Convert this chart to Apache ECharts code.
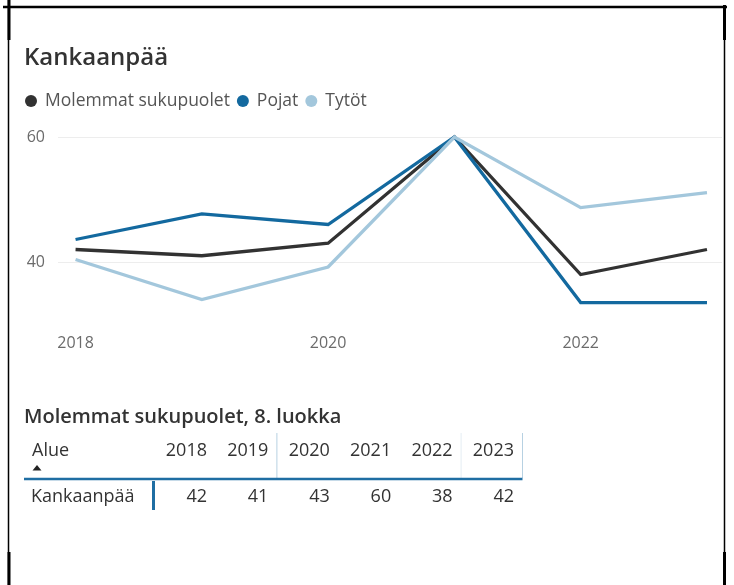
<!DOCTYPE html>
<html>
<head>
<meta charset="utf-8">
<script src="https://cdn.jsdelivr.net/npm/echarts@6/dist/echarts.min.js"></script>
<style>
  html, body { margin: 0; padding: 0; background: #ffffff; }
  #chart { width: 734px; height: 585px; }
</style>
</head>
<body>
<div id="chart"></div>
<script>
// Kankaanpää, 8. luokka – yearly values by gender
const years = [2018, 2019, 2020, 2021, 2022, 2023];
const molemmat = [42, 41, 43, 60, 38, 42];
const pojat = [43.6, 47.7, 46.0, 60, 33.5, 33.5];
const tytot = [40.4, 34.0, 39.2, 60, 48.7, 51.1];
const xTickLabels = [2018, 2020, 2022];
const yTickLabels = [40, 60];
const seriesNames = ['Molemmat sukupuolet', 'Pojat', 'Tytöt'];
const tableTitle = 'Molemmat sukupuolet, 8. luokka';
const tableRegion = 'Kankaanpää';

const FONT = "'Segoe UI', 'Open Sans', sans-serif";
const COLORS = ['#323232', '#13699f', '#a3c7dc'];

const chart = echarts.init(document.getElementById('chart'), null, { renderer: 'canvas' });

const toPoints = vals => years.map((y, i) => [y, vals[i]]);

// Frame around the visual
const frame = [
  { type: 'line', shape: { x1: 3, y1: 7, x2: 727, y2: 7 }, style: { stroke: '#000', lineWidth: 2.5 } },
  { type: 'line', shape: { x1: 8.5, y1: 0, x2: 8.5, y2: 585 }, style: { stroke: '#000', lineWidth: 1.5 } },
  { type: 'line', shape: { x1: 9, y1: 0, x2: 9, y2: 40 }, style: { stroke: '#000', lineWidth: 3 } },
  { type: 'line', shape: { x1: 9, y1: 552, x2: 9, y2: 585 }, style: { stroke: '#000', lineWidth: 3 } },
  { type: 'line', shape: { x1: 724.5, y1: 5, x2: 724.5, y2: 585 }, style: { stroke: '#000', lineWidth: 1.5 } },
  { type: 'line', shape: { x1: 724.5, y1: 5, x2: 724.5, y2: 40 }, style: { stroke: '#000', lineWidth: 3 } },
  { type: 'line', shape: { x1: 724.5, y1: 552, x2: 724.5, y2: 585 }, style: { stroke: '#000', lineWidth: 3 } }
];

// Headings
const headings = [
  { type: 'text', x: 24, y: 58, style: { text: 'Kankaanpää', font: `600 24px ${FONT}`, fill: '#333333', textVerticalAlign: 'middle' } },
  { type: 'text', x: 24, y: 417, style: { text: tableTitle, font: `600 20px ${FONT}`, fill: '#333333', textVerticalAlign: 'middle' } }
];

// Table of "Molemmat sukupuolet" values
const colRight0 = 207, colStep = 61.4;
const headerY = 451, rowY = 497;
const CELL_FONT = `18px ${FONT}`;
const table = [];
table.push({ type: 'text', x: 32, y: headerY, style: { text: 'Alue', font: CELL_FONT, fill: '#333', textVerticalAlign: 'middle' } });
table.push({ type: 'polygon', shape: { points: [[32.5, 470.5], [41.5, 470.5], [37, 465]] }, style: { fill: '#222' } });
years.forEach((yr, i) => {
  const r = colRight0 + i * colStep;
  table.push({ type: 'text', x: r, y: headerY, style: { text: String(yr), font: CELL_FONT, fill: '#333', textAlign: 'right', textVerticalAlign: 'middle' } });
  table.push({ type: 'text', x: r, y: rowY, style: { text: String(molemmat[i]), font: CELL_FONT, fill: '#333', textAlign: 'right', textVerticalAlign: 'middle' } });
});
table.push({ type: 'text', x: 31, y: rowY, style: { text: tableRegion, font: CELL_FONT, fill: '#333', textVerticalAlign: 'middle' } });
// column separators in header
const sepX = [colRight0 + colStep + 8.5, colRight0 + 4 * colStep + 8.5, colRight0 + 5 * colStep + 8.5];
const sepCol = ['#b7d1e2', '#e4edf3', '#b7d1e2'];
sepX.forEach((x, k) => {
  table.push({ type: 'line', shape: { x1: x, y1: 433, x2: x, y2: 478 }, style: { stroke: sepCol[k], lineWidth: 1 } });
});
table.push({ type: 'line', shape: { x1: 24, y1: 479, x2: sepX[2], y2: 479 }, style: { stroke: '#1f6ea3', lineWidth: 2.5 } });
table.push({ type: 'line', shape: { x1: 153.5, y1: 481, x2: 153.5, y2: 510 }, style: { stroke: '#1f6ea3', lineWidth: 3 } });

const lineSeries = [molemmat, pojat, tytot].map((vals, k) => ({
  name: seriesNames[k],
  type: 'line',
  data: toPoints(vals),
  symbol: 'none',
  clip: false,
  lineStyle: { color: COLORS[k], width: 3.3, join: 'miter', miterLimit: 10 },
  itemStyle: { color: COLORS[k] },
  emphasis: { disabled: true },
  z: 2 + k
}));

chart.setOption({
  animation: false,
  backgroundColor: '#ffffff',
  textStyle: { fontFamily: FONT },
  legend: {
    left: 25,
    top: 92,
    padding: 0,
    icon: 'circle',
    itemWidth: 12,
    itemHeight: 12,
    itemGap: 7,
    selectedMode: false,
    textStyle: { fontSize: 17.5, color: '#555555', lineHeight: 18, padding: [0, 0, 0, 3] },
    data: seriesNames
  },
  grid: { left: 58, right: 12, top: 137, bottom: 260.5, containLabel: false },
  xAxis: {
    type: 'value',
    min: 2017.861,
    max: 2023.119,
    axisLine: { show: false },
    axisTick: { show: false, customValues: xTickLabels },
    splitLine: { show: false },
    axisLabel: {
      customValues: xTickLabels,
      formatter: v => String(v),
      color: '#6b6b6b',
      fontSize: 16,
      margin: 11
    }
  },
  yAxis: {
    type: 'value',
    min: 30,
    max: 60,
    axisLine: { show: false },
    axisTick: { show: false, customValues: yTickLabels },
    splitLine: { show: true, lineStyle: { color: '#ededed', width: 1 } },
    axisLabel: {
      customValues: yTickLabels,
      color: '#6b6b6b',
      fontSize: 16,
      margin: 13
    }
  },
  series: lineSeries,
  graphic: frame.concat(headings, table)
});
</script>
</body>
</html>
